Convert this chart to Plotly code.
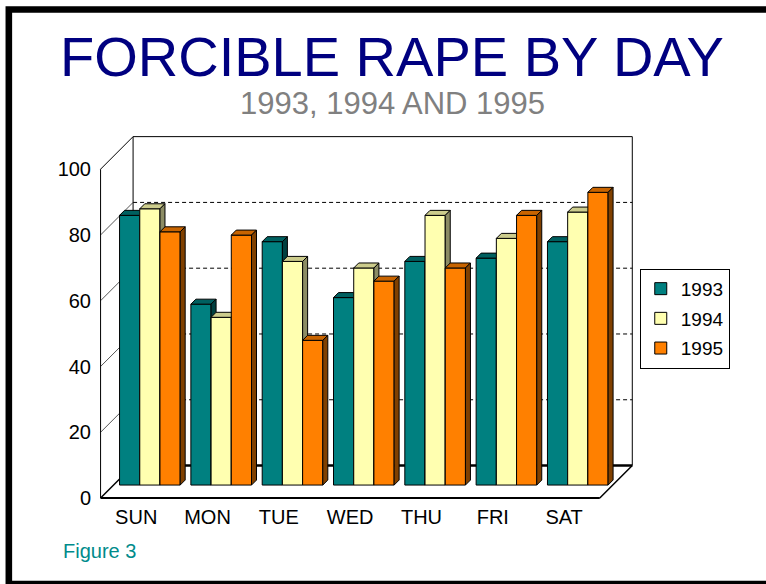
import plotly.graph_objects as go

# ---------------- data ----------------
days = ["SUN", "MON", "TUE", "WED", "THU", "FRI", "SAT"]
years = ["1993", "1994", "1995"]
v1993 = [82, 55, 74, 57, 68, 69, 74]
v1994 = [84, 51, 68, 66, 82, 75, 83]
v1995 = [77, 76, 44, 62, 66, 82, 89]
y_ticks = [0, 20, 40, 60, 80, 100]

series = [v1993, v1994, v1995]
front_cols = ["#008080", "#FFFFB0", "#FF8000"]
top_cols = ["#006060", "#CCCC8C", "#C86400"]
side_cols = ["#004040", "#8C8C64", "#804000"]

# ---------------- geometry (pixels -> data units) ----------------
W, H = 766, 584
XU = 71.29          # px per category unit
YU = 3.285          # px per value unit
DEPTH = 32.5        # oblique depth of the box, px
FX0, FY0 = 101.0, 498.0   # pixel of front-left floor corner (x=0,y=0)

dX, dY = DEPTH / XU, DEPTH / YU            # full depth in data units
bar_off_x, bar_off_y = 13 / XU, 13 / YU    # bar front plane offset
bdx, bdy = 5 / XU, 5 / YU                  # bar depth
bw = 20.2 / XU                             # bar width
grp_left = 0.084                           # group start within category

xr = [-0.05, 7.55]
yr = [-1.5, 111.0]
L = FX0 + xr[0] * XU
PW = (xr[1] - xr[0]) * XU
T = FY0 - yr[1] * YU
PH = (yr[1] - yr[0]) * YU
R = W - L - PW
B = H - T - PH


def px2paper(px, py):
    return (px - L) / PW, (T + PH - py) / PH


fig = go.Figure()

# ---------------- box frame ----------------
def line(x0, y0, x1, y1, width=1, color="black", dash="solid"):
    fig.add_shape(type="line", x0=x0, y0=y0, x1=x1, y1=y1, xref="x", yref="y",
                  line=dict(color=color, width=width, dash=dash), layer="below")

nC = len(days)
ymax = y_ticks[-1]
# back wall gridlines (dashed) and left-wall diagonals
for lv in y_ticks[1:-1]:
    line(dX, lv + dY, nC + dX, lv + dY, width=1, dash="4px,3px")
    line(0, lv, dX, lv + dY, width=1, color="#555555")
# back wall outline
line(dX, dY, dX, ymax + dY)
line(dX, ymax + dY, nC + dX, ymax + dY)
line(nC + dX, dY, nC + dX, ymax + dY)
line(dX, dY, nC + dX, dY, width=2.5)
# left wall / axis
line(0, 0, 0, ymax)
line(0, ymax, dX, ymax + dY)
line(0, 0, dX, dY, width=1.5)
# floor
line(0, 0, nC, 0, width=2)
line(nC, 0, nC + dX, dY, width=1.5)

# ---------------- 3-D bars ----------------
for i in range(nC):
    for k, vals in enumerate(series):
        v = vals[i]
        x0 = i + grp_left + bar_off_x + k * bw
        x1 = x0 + bw
        b = bar_off_y
        t = b + v
        faces = [
            ([x0, x1, x1, x0, x0], [b, b, t, t, b], front_cols[k]),
            ([x0, x1, x1 + bdx, x0 + bdx, x0], [t, t, t + bdy, t + bdy, t], top_cols[k]),
            ([x1, x1 + bdx, x1 + bdx, x1, x1], [b, b + bdy, t + bdy, t, b], side_cols[k]),
        ]
        for fx, fy, col in faces:
            fig.add_trace(go.Scatter(
                x=fx, y=fy, mode="lines", fill="toself", fillcolor=col,
                line=dict(color="black", width=1), showlegend=False,
                hoverinfo="skip", cliponaxis=False))

# legend entries
for k, yname in enumerate(years):
    fig.add_trace(go.Bar(x=[None], y=[None], name=yname,
                         marker=dict(color=front_cols[k], line=dict(color="black", width=1)),
                         legendgroup=yname))

# ---------------- texts ----------------
FONT = "Liberation Sans, Arial, sans-serif"
tx, ty = px2paper(392, 57)
sx, sy = px2paper(393, 104)
fx, fy = px2paper(61, 551)
annots = [
    dict(text="FORCIBLE RAPE BY DAY", x=tx, y=ty, xref="paper", yref="paper",
         showarrow=False, xanchor="center", yanchor="middle",
         font=dict(family=FONT, size=56, color="#000080")),
    dict(text="1993, 1994 AND 1995", x=sx, y=sy, xref="paper", yref="paper",
         showarrow=False, xanchor="center", yanchor="middle",
         font=dict(family=FONT, size=31, color="#808080")),
    dict(text="Figure 3", x=fx, y=fy, xref="paper", yref="paper",
         showarrow=False, xanchor="left", yanchor="middle",
         font=dict(family=FONT, size=20, color="#008B8B")),
]

# outer border (top, left, bottom visible)
bx0, by0 = px2paper(9.3, 10)
bx1, by1 = px2paper(780, 584)
fig.add_shape(type="rect", xref="paper", yref="paper", x0=bx0, y0=by1, x1=bx1, y1=by0,
              line=dict(color="black", width=6.6))

lx, ly = px2paper(640, 269)

fig.update_layout(
    width=W, height=H, autosize=False,
    margin=dict(l=L, r=R, t=T, b=B, pad=0),
    paper_bgcolor="white", plot_bgcolor="white",
    font=dict(family=FONT, size=20, color="black"),
    annotations=annots,
    showlegend=True,
    legend=dict(x=lx, y=ly, xanchor="left", yanchor="top",
                bordercolor="black", borderwidth=1, bgcolor="white",
                font=dict(family=FONT, size=19, color="black"),
                tracegroupgap=2, traceorder="grouped", itemwidth=30),
    xaxis=dict(range=xr, showgrid=False, zeroline=False, showline=False,
               tickmode="array", tickvals=[i + 0.5 for i in range(nC)], ticktext=days,
               ticks="", ticklabelstandoff=0, fixedrange=True),
    yaxis=dict(range=yr, showgrid=False, zeroline=False, showline=False,
               tickmode="array", tickvals=y_ticks, ticktext=[str(v) for v in y_ticks],
               ticks="", ticklabelstandoff=5, fixedrange=True),
)

fig.write_html("out.html", config={"displayModeBar": False},
               post_script="document.body.style.margin='0';")
